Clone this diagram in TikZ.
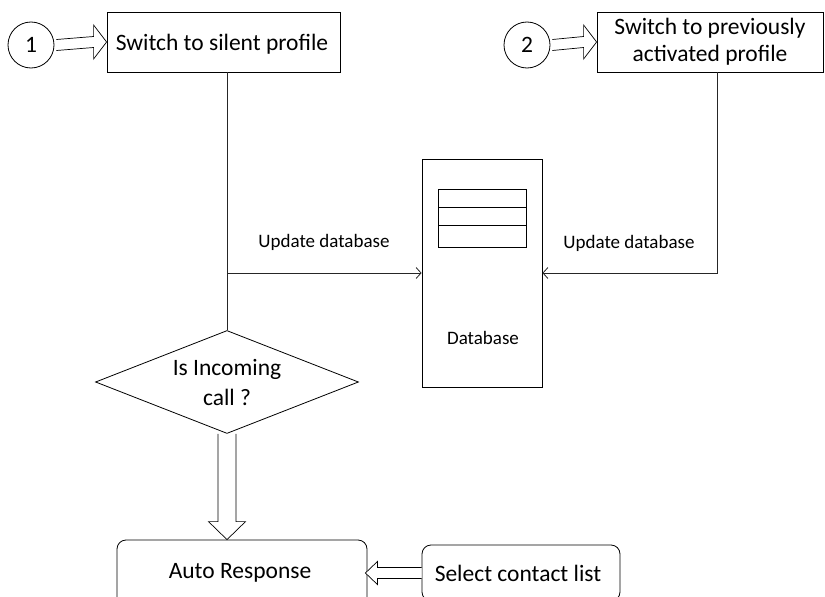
\documentclass[tikz,border=0pt]{standalone}
\usepackage{fontspec}
\setmainfont{Carlito}
\usetikzlibrary{shapes.geometric,arrows.meta,calc}
\begin{document}
\begin{tikzpicture}[x=1pt,y=-1pt,
  line width=0.8pt,
  big/.style={font=\fontsize{23.5}{29}\selectfont},
  small/.style={font=\fontsize{19}{23}\selectfont},
  box/.style={draw, rectangle, inner sep=0pt, big, align=center},
  rbox/.style={draw, rectangle, rounded corners=9pt, inner sep=0pt, big},
  num/.style={draw, circle, minimum size=46pt, inner sep=0pt, big},
  hollow/.style={draw, fill=white, line width=0.7pt, line join=miter},
  link/.style={draw=black!85, line width=0.8pt},
  tip/.style={-{Straight Barb[length=5pt,width=11pt]}}
]
\useasboundingbox (0,0) rectangle (825,597);
\clip (0,0) rectangle (825,597);

% nodes
\node[num] (c1) at (31,45) {1};
\node[box, minimum width=233pt, minimum height=60pt] (b1) at (223.5,42) {};
\node[big] (b1text) at (222,44) {Switch to silent profile};
\node[num] (c2) at (527,45) {2};
\node[box, minimum width=226pt, minimum height=60pt] (b2) at (710,42) {Switch to previously\\[-2pt]activated profile};
\node[draw, rectangle, minimum width=120pt, minimum height=228pt, inner sep=0pt] (db) at (482,273) {};
\node[small] (dblabel) at (483,338) {Database};
\node[draw, rectangle, minimum width=88pt, minimum height=18pt, inner sep=0pt] (t1) at (482,198) {};
\node[draw, rectangle, minimum width=88pt, minimum height=18pt, inner sep=0pt] (t2) at (482,216) {};
\node[draw, rectangle, minimum width=88pt, minimum height=22pt, inner sep=0pt] (t3) at (482,236) {};
\node[draw, diamond, aspect=2.55, minimum width=263pt, minimum height=103pt, inner sep=0pt, big, align=center] (dia) at (227,382) {Is Incoming\\[1pt]call ?};
\node[rbox, minimum width=250pt, minimum height=66pt] (ar) at (242,573) {};
\node[big] (artext) at (240,573) {Auto Response};
\node[rbox, minimum width=198pt, minimum height=56pt] (sc) at (521,573) {};
\node[big] (sctext) at (518,573) {Select contact list};

% hollow arrows
\draw[hollow] ($(c1.east)+(2,-5.5)$) -- ($(b1.west)+(-13,-5.5)$) -- ($(b1.west)+(-13,-17)$) -- (b1.west)
  -- ($(b1.west)+(-13,17)$) -- ($(b1.west)+(-13,5.5)$) -- ($(c1.east)+(2,5.5)$);
\draw[hollow] ($(c2.east)+(2,-5.5)$) -- ($(b2.west)+(-13,-5.5)$) -- ($(b2.west)+(-13,-17)$) -- (b2.west)
  -- ($(b2.west)+(-13,17)$) -- ($(b2.west)+(-13,5.5)$) -- ($(c2.east)+(2,5.5)$);
\draw[hollow] ($(dia.south)+(-9,0)$) -- ($(ar.north -| dia.south)+(-9,-18)$) -- ($(ar.north -| dia.south)+(-18.5,-18)$)
  -- (ar.north -| dia.south) -- ($(ar.north -| dia.south)+(18.5,-18)$) -- ($(ar.north -| dia.south)+(9,-18)$) -- ($(dia.south)+(9,0)$);
\draw[hollow] ($(sc.west)+(0,-5.5)$) -- ($(ar.east)+(10,-5.5)$) -- ($(ar.east)+(10,-11.5)$) -- ($(ar.east)+(-2,0)$)
  -- ($(ar.east)+(10,11.5)$) -- ($(ar.east)+(10,5.5)$) -- ($(sc.west)+(0,5.5)$);

% connectors
\draw[link] (dia.north |- b1.south) -- (dia.north);
\draw[link, tip] (dia.north |- db.west) -- (db.west);
\draw[link, tip] ([xshift=7pt]b2.south) |- (db.east);
\node[small] (lab1) at (324,242) {Update database};
\node[small] (lab2) at (629,243) {Update database};
\end{tikzpicture}
\end{document}
